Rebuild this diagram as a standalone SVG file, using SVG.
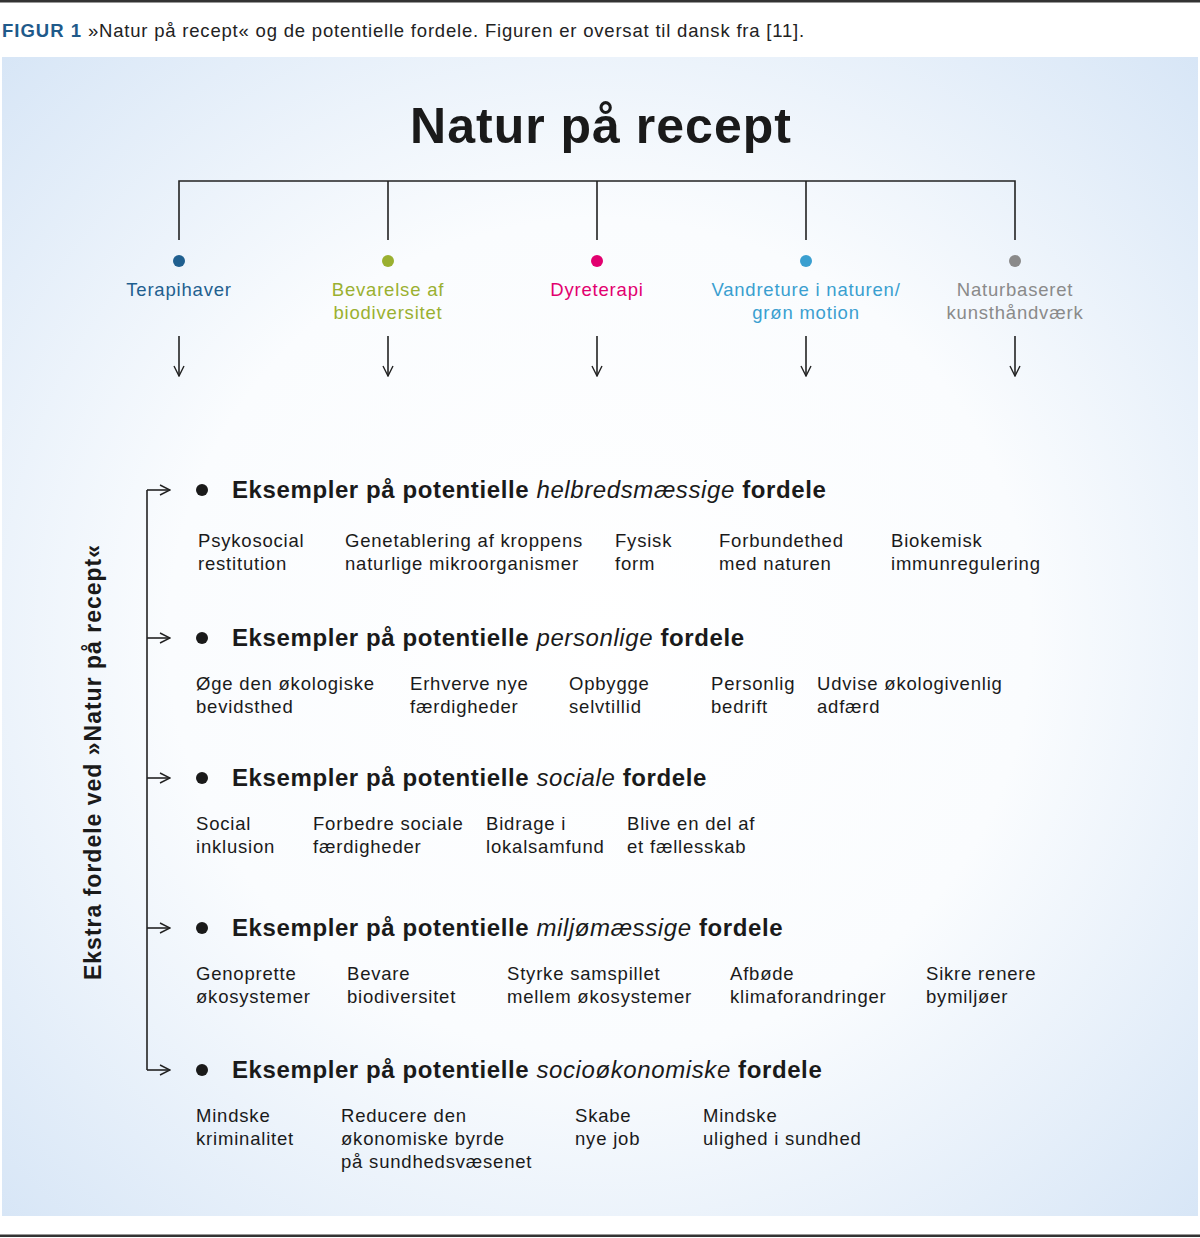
<svg xmlns="http://www.w3.org/2000/svg" width="1200" height="1238" viewBox="0 0 1200 1238">
<defs>
<radialGradient id="bg" cx="0.5" cy="0.5" r="0.72">
<stop offset="0" stop-color="#ffffff"/>
<stop offset="0.5" stop-color="#fafcfe"/>
<stop offset="1" stop-color="#d6e5f6"/>
</radialGradient>
<marker id="ah" viewBox="0 0 12 12" refX="11" refY="6" markerWidth="12" markerHeight="12" markerUnits="userSpaceOnUse" orient="auto">
<path d="M1,1 L11,6 L1,11" fill="none" stroke="#222" stroke-width="1.4"/>
</marker>
<style>
.t{font-family:"Liberation Sans",Arial,sans-serif;}
.cap{font-size:18.5px;fill:#222;letter-spacing:0.8px;}
.title{font-size:50px;font-weight:bold;fill:#1a1a1a;text-anchor:middle;letter-spacing:1px;}
.lab{font-size:18.5px;text-anchor:middle;letter-spacing:0.8px;}
.hd{font-size:24px;font-weight:bold;fill:#1a1a1a;letter-spacing:0.6px;}
.it{font-size:18.5px;fill:#1a1a1a;letter-spacing:0.8px;}
.side{font-size:23px;font-weight:bold;fill:#1a1a1a;text-anchor:middle;letter-spacing:1px;}
.ln{stroke:#222;stroke-width:1.6;fill:none;}
</style>
</defs>
<rect x="0" y="0" width="1200" height="1238" fill="#ffffff"/>
<rect x="0" y="0" width="1200" height="2.5" fill="#333"/>
<rect x="0" y="1234.5" width="1200" height="2.5" fill="#333"/>
<text class="t cap" x="2" y="37"><tspan font-weight="bold" fill="#1f5a8a" letter-spacing="1">FIGUR 1</tspan> »Natur på recept« og de potentielle fordele. Figuren er oversat til dansk fra [11].</text>
<rect x="2" y="57" width="1196" height="1159" fill="url(#bg)"/>
<text class="t title" x="601" y="143">Natur på recept</text>
<g id="connectors">
<path class="ln" d="M179,240 V181 H1015 V240 M388,181 V240 M597,181 V240 M806,181 V240"/>
<path class="ln" d="M179,336 V376" marker-end="url(#ah)"/>
<path class="ln" d="M388,336 V376" marker-end="url(#ah)"/>
<path class="ln" d="M597,336 V376" marker-end="url(#ah)"/>
<path class="ln" d="M806,336 V376" marker-end="url(#ah)"/>
<path class="ln" d="M1015,336 V376" marker-end="url(#ah)"/>
<path class="ln" d="M147,490 V1070"/>
<path class="ln" d="M147,490 H170" marker-end="url(#ah)"/>
<path class="ln" d="M147,638 H170" marker-end="url(#ah)"/>
<path class="ln" d="M147,778 H170" marker-end="url(#ah)"/>
<path class="ln" d="M147,928 H170" marker-end="url(#ah)"/>
<path class="ln" d="M147,1070 H170" marker-end="url(#ah)"/>
</g>
<g id="n1"><circle cx="179" cy="261" r="6" fill="#1f5f8f"/><text class="t lab" x="179" y="296" fill="#1f5f8f">Terapihaver</text></g>
<g id="n2"><circle cx="388" cy="261" r="6" fill="#9ab030"/><text class="t lab" x="388" y="296" fill="#9ab030">Bevarelse af<tspan x="388" dy="23">biodiversitet</tspan></text></g>
<g id="n3"><circle cx="597" cy="261" r="6" fill="#e2006f"/><text class="t lab" x="597" y="296" fill="#e2006f">Dyreterapi</text></g>
<g id="n4"><circle cx="806" cy="261" r="6" fill="#3a9fd0"/><text class="t lab" x="806" y="296" fill="#3a9fd0">Vandreture i naturen/<tspan x="806" dy="23">grøn motion</tspan></text></g>
<g id="n5"><circle cx="1015" cy="261" r="6" fill="#8a8a8a"/><text class="t lab" x="1015" y="296" fill="#8a8a8a">Naturbaseret<tspan x="1015" dy="23">kunsthåndværk</tspan></text></g>
<g id="side"><text class="t side" transform="translate(101,762) rotate(-90)">Ekstra fordele ved »Natur på recept«</text></g>
<g id="s1">
<circle cx="202" cy="490" r="6" fill="#1a1a1a"/>
<text class="t hd" x="232" y="498">Eksempler på potentielle <tspan font-weight="normal" font-style="italic">helbredsmæssige</tspan> fordele</text>
<text class="t it" y="547"><tspan x="198">Psykosocial</tspan><tspan x="198" dy="23">restitution</tspan></text>
<text class="t it" y="547"><tspan x="345">Genetablering af kroppens</tspan><tspan x="345" dy="23">naturlige mikroorganismer</tspan></text>
<text class="t it" y="547"><tspan x="615">Fysisk</tspan><tspan x="615" dy="23">form</tspan></text>
<text class="t it" y="547"><tspan x="719">Forbundethed</tspan><tspan x="719" dy="23">med naturen</tspan></text>
<text class="t it" y="547"><tspan x="891">Biokemisk</tspan><tspan x="891" dy="23">immunregulering</tspan></text>
</g>
<g id="s2">
<circle cx="202" cy="638" r="6" fill="#1a1a1a"/>
<text class="t hd" x="232" y="646">Eksempler på potentielle <tspan font-weight="normal" font-style="italic">personlige</tspan> fordele</text>
<text class="t it" y="690"><tspan x="196">Øge den økologiske</tspan><tspan x="196" dy="23">bevidsthed</tspan></text>
<text class="t it" y="690"><tspan x="410">Erhverve nye</tspan><tspan x="410" dy="23">færdigheder</tspan></text>
<text class="t it" y="690"><tspan x="569">Opbygge</tspan><tspan x="569" dy="23">selvtillid</tspan></text>
<text class="t it" y="690"><tspan x="711">Personlig</tspan><tspan x="711" dy="23">bedrift</tspan></text>
<text class="t it" y="690"><tspan x="817">Udvise økologivenlig</tspan><tspan x="817" dy="23">adfærd</tspan></text>
</g>
<g id="s3">
<circle cx="202" cy="778" r="6" fill="#1a1a1a"/>
<text class="t hd" x="232" y="786">Eksempler på potentielle <tspan font-weight="normal" font-style="italic">sociale</tspan> fordele</text>
<text class="t it" y="830"><tspan x="196">Social</tspan><tspan x="196" dy="23">inklusion</tspan></text>
<text class="t it" y="830"><tspan x="313">Forbedre sociale</tspan><tspan x="313" dy="23">færdigheder</tspan></text>
<text class="t it" y="830"><tspan x="486">Bidrage i</tspan><tspan x="486" dy="23">lokalsamfund</tspan></text>
<text class="t it" y="830"><tspan x="627">Blive en del af</tspan><tspan x="627" dy="23">et fællesskab</tspan></text>
</g>
<g id="s4">
<circle cx="202" cy="928" r="6" fill="#1a1a1a"/>
<text class="t hd" x="232" y="936">Eksempler på potentielle <tspan font-weight="normal" font-style="italic">miljømæssige</tspan> fordele</text>
<text class="t it" y="980"><tspan x="196">Genoprette</tspan><tspan x="196" dy="23">økosystemer</tspan></text>
<text class="t it" y="980"><tspan x="347">Bevare</tspan><tspan x="347" dy="23">biodiversitet</tspan></text>
<text class="t it" y="980"><tspan x="507">Styrke samspillet</tspan><tspan x="507" dy="23">mellem økosystemer</tspan></text>
<text class="t it" y="980"><tspan x="730">Afbøde</tspan><tspan x="730" dy="23">klimaforandringer</tspan></text>
<text class="t it" y="980"><tspan x="926">Sikre renere</tspan><tspan x="926" dy="23">bymiljøer</tspan></text>
</g>
<g id="s5">
<circle cx="202" cy="1070" r="6" fill="#1a1a1a"/>
<text class="t hd" x="232" y="1078">Eksempler på potentielle <tspan font-weight="normal" font-style="italic">socioøkonomiske</tspan> fordele</text>
<text class="t it" y="1122"><tspan x="196">Mindske</tspan><tspan x="196" dy="23">kriminalitet</tspan></text>
<text class="t it" y="1122"><tspan x="341">Reducere den</tspan><tspan x="341" dy="23">økonomiske byrde</tspan><tspan x="341" dy="23">på sundhedsvæsenet</tspan></text>
<text class="t it" y="1122"><tspan x="575">Skabe</tspan><tspan x="575" dy="23">nye job</tspan></text>
<text class="t it" y="1122"><tspan x="703">Mindske</tspan><tspan x="703" dy="23">ulighed i sundhed</tspan></text>
</g>
</svg>
